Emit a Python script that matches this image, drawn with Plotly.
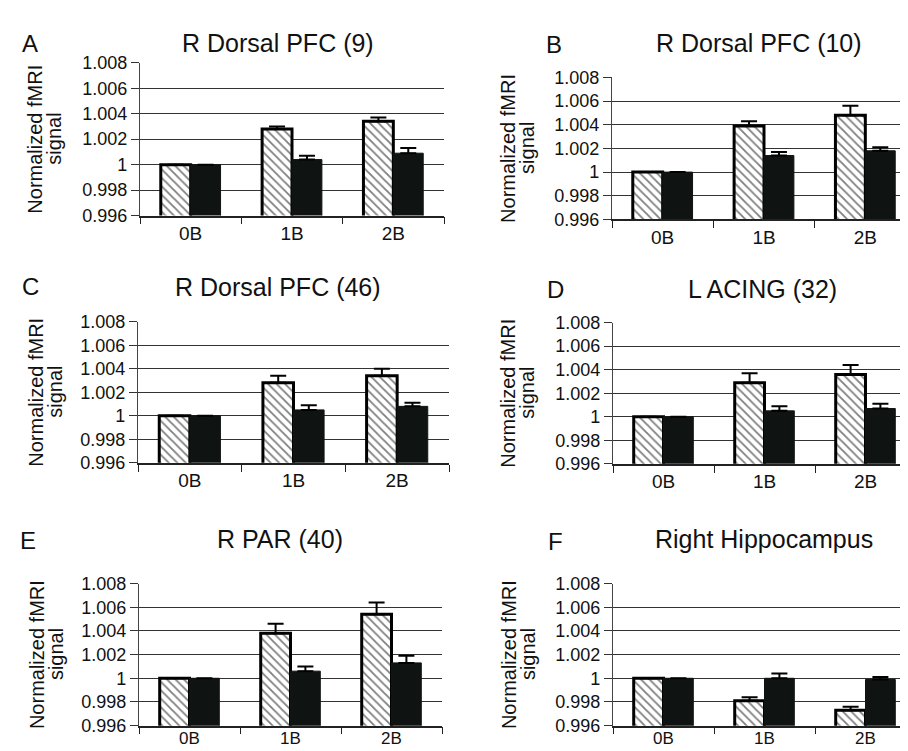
import plotly.graph_objects as go

categories = ["0B", "1B", "2B"]
panel_letters = ["A", "B", "C", "D", "E", "F"]
panel_titles = ["R Dorsal PFC (9)", "R Dorsal PFC (10)", "R Dorsal PFC (46)",
                "L ACING (32)", "R PAR (40)", "Right Hippocampus"]

# hatched series (left bar in each group)
hatched_A = [1.0000, 1.0028, 1.0034]
hatched_B = [1.0000, 1.0039, 1.0048]
hatched_C = [1.0000, 1.0028, 1.0034]
hatched_D = [1.0000, 1.0029, 1.0036]
hatched_E = [1.0000, 1.0038, 1.0054]
hatched_F = [1.0000, 0.9981, 0.9973]
hatched_err_A = [0.0, 0.0002, 0.0003]
hatched_err_B = [0.0, 0.0004, 0.0008]
hatched_err_C = [0.0, 0.0006, 0.0006]
hatched_err_D = [0.0, 0.0008, 0.0008]
hatched_err_E = [0.0, 0.0008, 0.0010]
hatched_err_F = [0.0, 0.0003, 0.0003]

# solid black series (right bar in each group)
solid_A = [1.0000, 1.0004, 1.0009]
solid_B = [1.0000, 1.0014, 1.0018]
solid_C = [1.0000, 1.0005, 1.0008]
solid_D = [1.0000, 1.0005, 1.0007]
solid_E = [1.0000, 1.0006, 1.0013]
solid_F = [1.0000, 1.0000, 0.9999]
solid_err_A = [0.0, 0.0003, 0.0004]
solid_err_B = [0.0, 0.0003, 0.0003]
solid_err_C = [0.0, 0.0004, 0.0003]
solid_err_D = [0.0, 0.0004, 0.0004]
solid_err_E = [0.0, 0.0004, 0.0006]
solid_err_F = [0.0, 0.0004, 0.0002]

y_tick_vals = [0.996, 0.998, 1.000, 1.002, 1.004, 1.006, 1.008]
y_tick_text = ["0.996", "0.998", "1", "1.002", "1.004", "1.006", "1.008"]
y_title_line1 = "Normalized fMRI"
y_title_line2 = "signal"

hatched = [hatched_A, hatched_B, hatched_C, hatched_D, hatched_E, hatched_F]
hatched_err = [hatched_err_A, hatched_err_B, hatched_err_C, hatched_err_D, hatched_err_E, hatched_err_F]
solid = [solid_A, solid_B, solid_C, solid_D, solid_E, solid_F]
solid_err = [solid_err_A, solid_err_B, solid_err_C, solid_err_D, solid_err_E, solid_err_F]

W, H = 908, 751
# plot-area pixel boxes (x0, x1, ytop, ybottom)
boxes = [
    (132, 436, 46, 203),
    (604, 908, 61, 207),
    (130, 441, 312, 457),
    (605, 908, 313, 458),
    (131, 434, 581, 727),
    (605, 908, 581, 727),
]
title_pos = [(270, 26), (751, 26), (270, 276), (754, 278), (272, 535), (756, 535)]
letter_pos = [(22, 26), (546, 27), (22, 276), (547, 279), (20, 537), (547, 538)]
ytitle_x = [37, 510, 38, 510, 38, 510]

FONT = "Liberation Sans, Arial, Helvetica, sans-serif"

fig = go.Figure()
annotations = []
layout = {}
for i in range(6):
    n = "" if i == 0 else str(i + 1)
    xa, ya = "x" + n, "y" + n
    x0, x1, yt, yb = boxes[i]
    bottom_row = i >= 4
    fig.add_trace(go.Bar(
        x=categories, y=hatched[i], xaxis=xa, yaxis=ya,
        marker=dict(color="white", line=dict(color="black", width=3),
                    pattern=dict(shape="\\", fgcolor="black", bgcolor="white",
                                 size=6, solidity=0.3)),
        error_y=dict(type="data", array=hatched_err[i], arrayminus=[0, 0, 0],
                     symmetric=False, color="black", thickness=2, width=8),
        showlegend=False, offsetgroup="h",
    ))
    fig.add_trace(go.Bar(
        x=categories, y=solid[i], xaxis=xa, yaxis=ya,
        marker=dict(color="#0f1412", line=dict(color="#0f1412", width=1)),
        error_y=dict(type="data", array=solid_err[i], arrayminus=[0, 0, 0],
                     symmetric=False, color="black", thickness=2, width=8),
        showlegend=False, offsetgroup="s",
    ))
    layout["xaxis" + n] = dict(
        domain=[x0 / W, min(x1 / W, 1.0)], anchor=ya,
        type="category", range=[-0.5, 2.5],
        showline=True, linecolor="#222", linewidth=1.5,
        ticks="outside", tickson="boundaries", ticklen=7, tickcolor="#222",
        ticklabelstandoff=-4 if bottom_row else 0,
        tickfont=dict(family=FONT, size=17 if bottom_row else 19, color="#111"),
        showgrid=False, zeroline=False, fixedrange=True,
    )
    layout["yaxis" + n] = dict(
        domain=[1 - yb / H, 1 - yt / H], anchor=xa,
        range=[0.996, 1.008], tickvals=y_tick_vals, ticktext=y_tick_text,
        showline=True, linecolor="#444", linewidth=1.2,
        ticks="outside", ticklen=8, tickcolor="#333",
        showgrid=True, gridcolor="#333", gridwidth=1,
        tickfont=dict(family=FONT, size=18, color="#111"),
        zeroline=False, fixedrange=True,
    )
    annotations.append(dict(
        text=panel_titles[i], x=title_pos[i][0] / W, y=1 - title_pos[i][1] / H,
        xref="paper", yref="paper", showarrow=False, xanchor="center", yanchor="middle",
        font=dict(family=FONT, size=25, color="#111")))
    annotations.append(dict(
        text=panel_letters[i], x=letter_pos[i][0] / W, y=1 - letter_pos[i][1] / H,
        xref="paper", yref="paper", showarrow=False, xanchor="center", yanchor="middle",
        font=dict(family=FONT, size=24, color="#111")))
    yc = 1 - (yt + yb) / 2 / H
    annotations.append(dict(
        text=y_title_line1, x=(ytitle_x[i] - 9.5) / W, y=yc,
        xref="paper", yref="paper", showarrow=False, xanchor="center", yanchor="middle",
        textangle=-90, font=dict(family=FONT, size=20, color="#111")))
    annotations.append(dict(
        text=y_title_line2, x=(ytitle_x[i] + 9.5) / W, y=yc,
        xref="paper", yref="paper", showarrow=False, xanchor="center", yanchor="middle",
        textangle=-90, font=dict(family=FONT, size=20, color="#111")))

fig.update_layout(
    width=W, height=H, margin=dict(l=0, r=0, t=0, b=0),
    paper_bgcolor="white", plot_bgcolor="white",
    barmode="group", bargap=0.41, bargroupgap=0,
    annotations=annotations, **layout,
)
fig.write_html("out.html")
